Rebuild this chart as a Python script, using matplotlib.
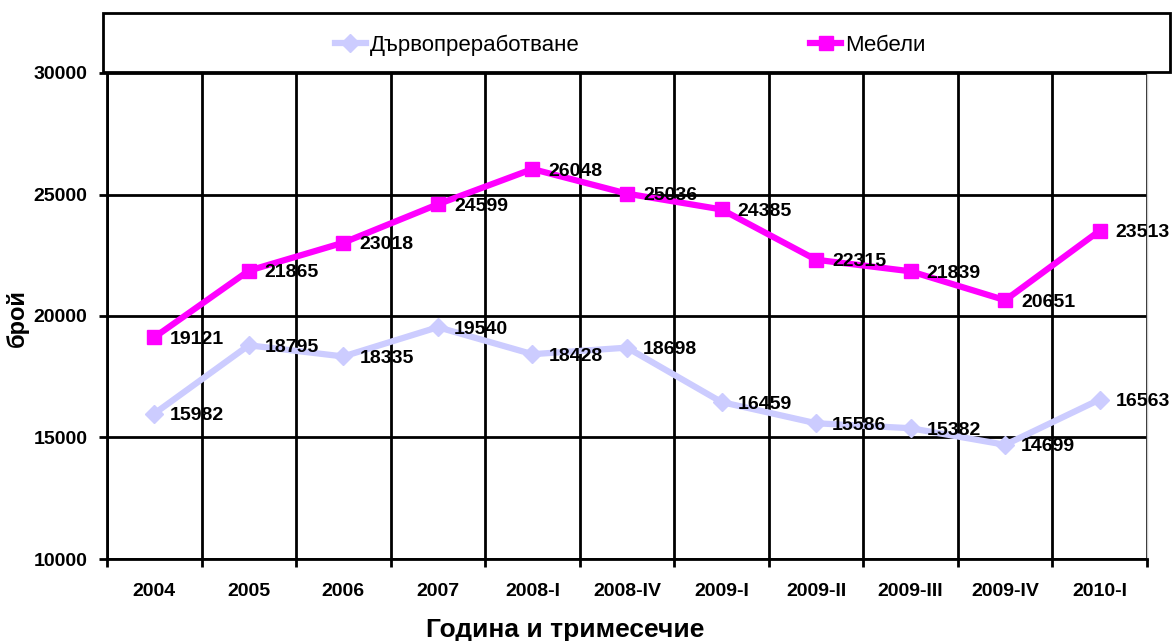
import matplotlib
matplotlib.use("Agg")
import matplotlib.pyplot as plt
from matplotlib.lines import Line2D
from matplotlib.patches import Rectangle

periods = ["2004", "2005", "2006", "2007", "2008-I", "2008-IV",
           "2009-I", "2009-II", "2009-III", "2009-IV", "2010-I"]
wood = [15982, 18795, 18335, 19540, 18428, 18698, 16459, 15586, 15382, 14699, 16563]
furniture = [19121, 21865, 23018, 24599, 26048, 25036, 24385, 22315, 21839, 20651, 23513]
y_ticks = [10000, 15000, 20000, 25000, 30000]

plt.rcParams["font.family"] = ["Liberation Sans", "DejaVu Sans"]

W, H = 1176, 641
fig = plt.figure(figsize=(W / 100, H / 100), dpi=100)
ax = fig.add_axes([107 / W, 1 - 559 / H, (1147 - 107) / W, (559 - 73) / H])

x = list(range(len(periods)))
wood_col = "#CCCCFF"
furn_col = "#FF00FF"

ax.plot(x, wood, color=wood_col, lw=4.5, marker="D", ms=9, zorder=3,
        solid_joinstyle="miter")
ax.plot(x, furniture, color=furn_col, lw=4.5, marker="s", ms=9.5, zorder=3,
        solid_joinstyle="miter")

for series in (wood, furniture):
    for xi, v in zip(x, series):
        ax.annotate(f"{v}", (xi, v), xytext=(11.5, -1.5), textcoords="offset points",
                    ha="left", va="center", fontsize=14, fontweight="bold", zorder=5)

ax.set_xlim(-0.5, len(periods) - 0.5)
ax.set_ylim(10000, 30000)
ax.set_yticks(y_ticks)
ax.set_yticklabels([str(t) for t in y_ticks], fontsize=14, fontweight="bold")
ax.set_xticks(x)
ax.set_xticklabels(periods, fontsize=14, fontweight="bold")
ax.set_xticks([i + 0.5 for i in range(-1, len(periods))], minor=True)

ax.tick_params(axis="x", which="major", length=0, pad=17)
ax.tick_params(axis="x", which="minor", length=6, width=2, color="black")
ax.tick_params(axis="y", which="major", length=6, width=2, pad=8)

ax.grid(axis="y", which="major", color="black", lw=2, zorder=1)
ax.grid(axis="x", which="minor", color="black", lw=2, zorder=1)
ax.set_axisbelow(True)

for side in ("left", "bottom"):
    ax.spines[side].set_linewidth(2)
    ax.spines[side].set_color("black")
ax.spines["top"].set_visible(False)
ax.spines["right"].set_color("#D0D0D0")
ax.spines["right"].set_linewidth(1)

fig.text(565 / W, 1 - 630 / H, "Година и тримесечие", ha="center", va="center",
         fontsize=19, fontweight="bold")
fig.text(17 / W, 1 - 318 / H, "брой", ha="center", va="center", rotation=90,
         fontsize=17, fontweight="bold")

# Legend frame spanning the top of the chart
fig.patches.append(Rectangle((103 / W, 1 - 72 / H), (1170 - 103) / W, (72 - 13) / H,
                             transform=fig.transFigure, facecolor="white",
                             edgecolor="black", lw=2, zorder=5))
handles = [Line2D([], [], color=wood_col, lw=4.5, marker="D", ms=9),
           Line2D([], [], color=furn_col, lw=4.5, marker="s", ms=9.5)]
fig.legend(handles, ["Дървопреработване", "Мебели"], loc="center",
           bbox_to_anchor=(630 / W, 1 - 45 / H), ncol=2, frameon=False,
           fontsize=16, handlelength=1.4, handletextpad=0.15, columnspacing=10.4)

fig.savefig("out.png", dpi=100)
